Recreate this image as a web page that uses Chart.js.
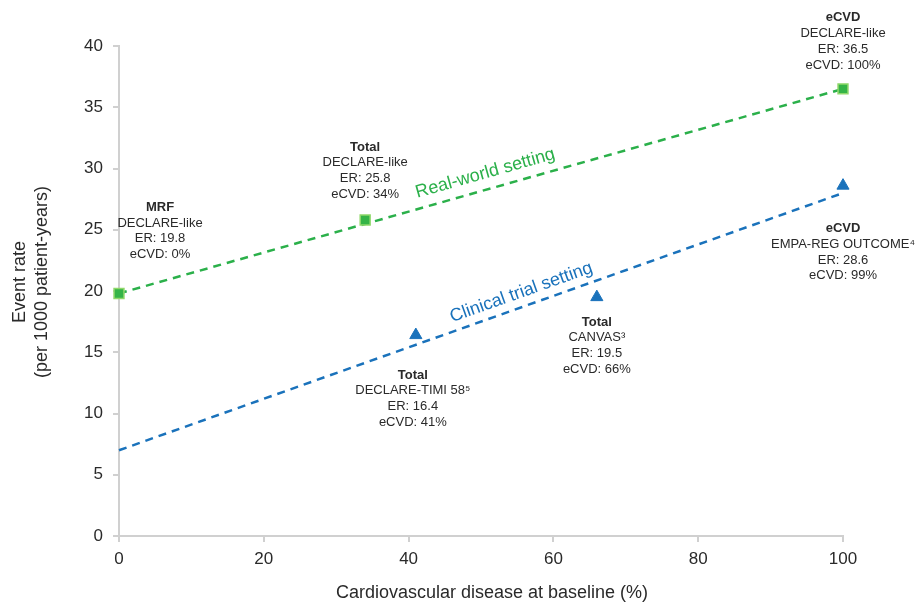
<!DOCTYPE html>
<html>
<head>
<meta charset="utf-8">
<script src="https://cdn.jsdelivr.net/npm/chart.js@4/dist/chart.umd.min.js"></script>
<style>
  html, body { margin: 0; padding: 0; background: #fff; }
  #wrap { width: 917px; height: 602px; position: relative; }
</style>
</head>
<body>
<div id="wrap"><canvas id="chart"></canvas></div>
<script>
// real-world (DECLARE-like) points
const rwX = [0, 34, 100]
const rwY = [19.8, 25.8, 36.5]
// clinical trial points
const ctX = [41, 66, 100]
const ctY = [16.4, 19.5, 28.6]
// dashed trend lines (end points)
const rwLineX = [0, 100]
const rwLineY = [19.8, 36.5]
const ctLineX = [0, 100]
const ctLineY = [7.0, 28.0]

const xTicks = [0, 20, 40, 60, 80, 100]
const yTicks = [0, 5, 10, 15, 20, 25, 30, 35, 40]

// label text for each point
const rwLabels = [
  ['MRF', 'DECLARE-like', 'ER: 19.8', 'eCVD: 0%'],
  ['Total', 'DECLARE-like', 'ER: 25.8', 'eCVD: 34%'],
  ['eCVD', 'DECLARE-like', 'ER: 36.5', 'eCVD: 100%']
]
const ctLabels = [
  ['Total', 'DECLARE-TIMI 58\u2075', 'ER: 16.4', 'eCVD: 41%'],
  ['Total', 'CANVAS\u00b3', 'ER: 19.5', 'eCVD: 66%'],
  ['eCVD', 'EMPA-REG OUTCOME\u2074', 'ER: 28.6', 'eCVD: 99%']
]
// pixel offsets of label (centre x, first line y) from its point
const rwOffsets = [[41, -86], [0, -73], [0, -71]]
const ctOffsets = [[-3, 40], [0, 25], [0, 43]]

const green = '#2bb04a'
const blue = '#1a72bb'
const FONT = "'Liberation Sans', Arial, Helvetica, sans-serif"

function toXY(xs, ys) {
  return xs.map(function (x, i) { return { x: x, y: ys[i] } })
}

const textPlugin = {
  id: 'texts',
  afterDatasetsDraw(chart) {
    const ctx = chart.ctx
    const xs = chart.scales.x
    const ys = chart.scales.y
    ctx.save()
    ctx.textAlign = 'center'
    ctx.textBaseline = 'middle'

    function block(px, py, lines, off) {
      const cx = xs.getPixelForValue(px) + off[0]
      let cy = ys.getPixelForValue(py) + off[1]
      lines.forEach(function (t, i) {
        ctx.font = (i === 0 ? 'bold ' : '') + '13px ' + FONT
        ctx.fillStyle = '#2a2a2a'
        ctx.fillText(t, cx, cy + i * 15.7)
      })
    }
    rwX.forEach(function (x, i) { block(x, rwY[i], rwLabels[i], rwOffsets[i]) })
    ctX.forEach(function (x, i) { block(x, ctY[i], ctLabels[i], ctOffsets[i]) })

    // rotated series captions along the trend lines
    function along(lx, ly, t, xv, lift, color) {
      const x0 = xs.getPixelForValue(lx[0]), y0 = ys.getPixelForValue(ly[0])
      const x1 = xs.getPixelForValue(lx[1]), y1 = ys.getPixelForValue(ly[1])
      const ang = Math.atan2(y1 - y0, x1 - x0)
      const f = (xv - lx[0]) / (lx[1] - lx[0])
      const px = x0 + (x1 - x0) * f
      const py = y0 + (y1 - y0) * f
      ctx.save()
      ctx.translate(px, py)
      ctx.rotate(ang)
      ctx.font = '18px ' + FONT
      ctx.fillStyle = color
      ctx.fillText(t, 0, -lift)
      ctx.restore()
    }
    along(rwLineX, rwLineY, 'Real-world setting', 51.2, 16, green)
    along(ctLineX, ctLineY, 'Clinical trial setting', 56.2, 14, blue)

    // axis titles
    ctx.fillStyle = '#2a2a2a'
    ctx.font = '18px ' + FONT
    ctx.fillText('Cardiovascular disease at baseline (%)', 492, 593)
    ctx.save()
    ctx.translate(20, 282)
    ctx.rotate(-Math.PI / 2)
    ctx.fillText('Event rate', 0, 0)
    ctx.fillText('(per 1000 patient-years)', 0, 22)
    ctx.restore()
    ctx.restore()
  }
}

const config = {
  type: 'scatter',
  data: {
    datasets: [
      {
        label: 'Real-world fit',
        data: toXY(rwLineX, rwLineY),
        showLine: true,
        borderColor: green,
        borderWidth: 2.5,
        borderDash: [8, 6],
        pointRadius: 0,
        order: 3
      },
      {
        label: 'Clinical trial fit',
        data: toXY(ctLineX, ctLineY),
        showLine: true,
        borderColor: blue,
        borderWidth: 2.5,
        borderDash: [8, 6],
        pointRadius: 0,
        order: 3
      },
      {
        label: 'Real-world',
        data: toXY(rwX, rwY),
        pointStyle: 'rect',
        pointRadius: 7,
        backgroundColor: '#35b447',
        borderColor: '#8fd86a',
        borderWidth: 1.5,
        order: 1
      },
      {
        label: 'Clinical trial',
        data: toXY(ctX, ctY),
        pointStyle: 'triangle',
        pointRadius: 7,
        backgroundColor: blue,
        borderColor: blue,
        borderWidth: 1,
        order: 1
      }
    ]
  },
  options: {
    responsive: true,
    maintainAspectRatio: false,
    animation: false,
    clip: false,
    layout: { padding: { top: 46, right: 74, left: 0, bottom: 0 } },
    plugins: { legend: { display: false }, tooltip: { enabled: false } },
    scales: {
      x: {
        type: 'linear',
        min: 0,
        max: 100,
        afterBuildTicks: function (s) { s.ticks = xTicks.map(function (v) { return { value: v } }) },
        afterFit: function (s) { s.height = 66 },
        grid: { drawOnChartArea: false, color: '#d0d0d0', tickLength: 6, lineWidth: 2 },
        border: { color: '#d0d0d0', width: 2 },
        ticks: { color: '#2a2a2a', font: { family: FONT, size: 17 }, padding: 7 }
      },
      y: {
        type: 'linear',
        min: 0,
        max: 40,
        afterBuildTicks: function (s) { s.ticks = yTicks.map(function (v) { return { value: v } }) },
        afterFit: function (s) { s.width = 119 },
        grid: { drawOnChartArea: false, color: '#d0d0d0', tickLength: 6, lineWidth: 2 },
        border: { color: '#d0d0d0', width: 2 },
        ticks: { color: '#2a2a2a', font: { family: FONT, size: 17 }, padding: 10 }
      }
    }
  },
  plugins: [textPlugin]
}

const chart = new Chart(document.getElementById('chart'), config)
</script>
</body>
</html>
